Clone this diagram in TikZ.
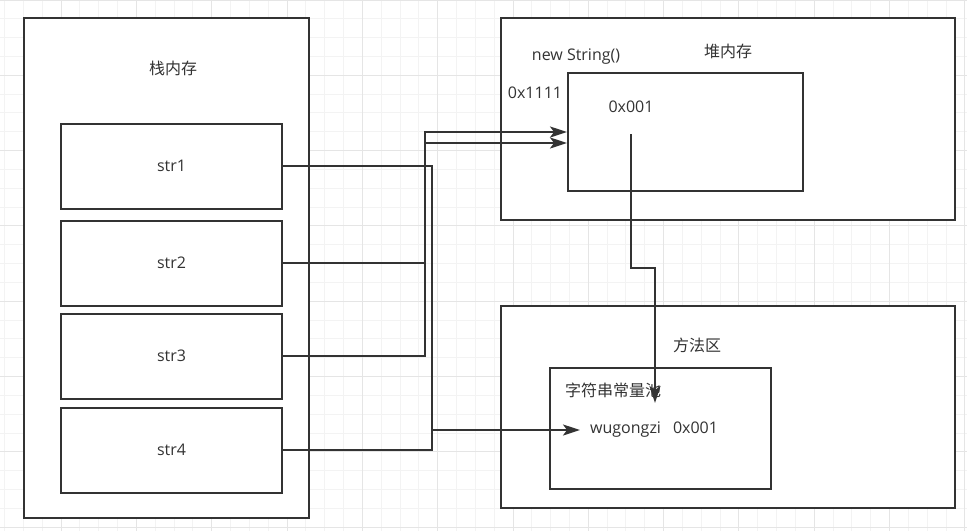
\documentclass[tikz,border=0pt]{standalone}
\usepackage{fontspec}
\setmainfont{Open Sans}
\newfontfamily\cjk{Noto Sans CJK SC}
\usetikzlibrary{positioning,calc}
\usetikzlibrary{arrows.meta}
\definecolor{InkGray}{RGB}{51,51,51}
\definecolor{GridMinor}{RGB}{243,243,243}
\definecolor{GridMajor}{RGB}{229,229,229}
\tikzset{
  area/.style={draw=InkGray,fill=white,line width=2pt,inner sep=0pt},
  slot/.style={area,minimum width=221pt,minimum height=85pt,
    text=InkGray,font=\fontsize{16}{19}\selectfont},
  lbl/.style={text=InkGray,font=\fontsize{16}{19}\selectfont,inner sep=0pt},
  clbl/.style={text=InkGray,font=\fontsize{16}{19}\selectfont\cjk,inner sep=0pt},
  wire/.style={draw=InkGray,line width=2pt},
  ptr/.style={wire,-{Stealth[length=17pt,width=11pt,inset=4pt]}},
  gminor/.style={draw=GridMinor,line width=1pt},
  gmajor/.style={draw=GridMajor,line width=1pt},
}

\begin{document}
\begin{tikzpicture}[x=1pt,y=-1pt]
\useasboundingbox (0,0) rectangle (967,531);
% background grid
\foreach \i in {0,...,51} \draw[gminor] ({4.6+18.83*\i},0) -- ({4.6+18.83*\i},531);
\foreach \j in {0,...,28} \draw[gminor] (0,{18.83*\j}) -- (967,{18.83*\j});
\foreach \i in {0,...,12} \draw[gmajor] ({61.1+75.32*\i},0) -- ({61.1+75.32*\i},531);
\foreach \j in {0,...,7} \draw[gmajor] (0,{75.32*\j}) -- (967,{75.32*\j});

% stack
\node[area,minimum width=285pt,minimum height=500pt] (stack) at (166.5,268) {};
\node[clbl] (stacklbl) at (173,68) {栈内存};
\node[slot] (str1) at (171.5,166) {str1};
\node[slot] (str2) at (171.5,263) {str2};
\node[slot] (str3) at (171.5,356) {str3};
\node[slot] (str4) at (171.5,450) {str4};

% heap
\node[area,minimum width=454pt,minimum height=202pt] (heap) at (728,119) {};
\node[area,minimum width=235pt,minimum height=118pt] (obj) at (685.5,132) {};
\node[clbl] (heaplbl) at (728,51) {堆内存};
\node[lbl] (newlbl) at (576,57) {new String()};
\node[lbl] (objaddr) at (535,93) {0x1111};
\node[lbl] (refaddr) at (631,107) {0x001};

% method area
\node[area,minimum width=454pt,minimum height=202pt] (method) at (728,407) {};
\node[area,minimum width=221pt,minimum height=121pt] (pool) at (660.5,428.5) {};
\node[clbl] (methodlbl) at (697,345) {方法区};
\node[clbl,anchor=west] (poollbl) at (565,390) {字符串常量池};
\node[lbl,anchor=west,inner xsep=10pt] (strval) at (580,430) {wugongzi\hspace{12pt}0x001};

% references
\coordinate (pj) at (432,430);
\coordinate (hj) at (425,143);
\draw[ptr] (str1.east) -| (pj) -- (strval.west);
\draw[wire] (str4.east) -| (pj);
\draw[ptr] (str2.east) -| (hj) -- ([yshift=-11pt]obj.west);
\draw[ptr] (str3.east) -| (hj) |- (obj.west);
\coordinate (p0) at (631,134);
\coordinate (p1) at (655,268);
\coordinate (p2) at (655,403);
\draw[ptr] (p0) |- (p1) -- (p2);
\end{tikzpicture}
\end{document}
